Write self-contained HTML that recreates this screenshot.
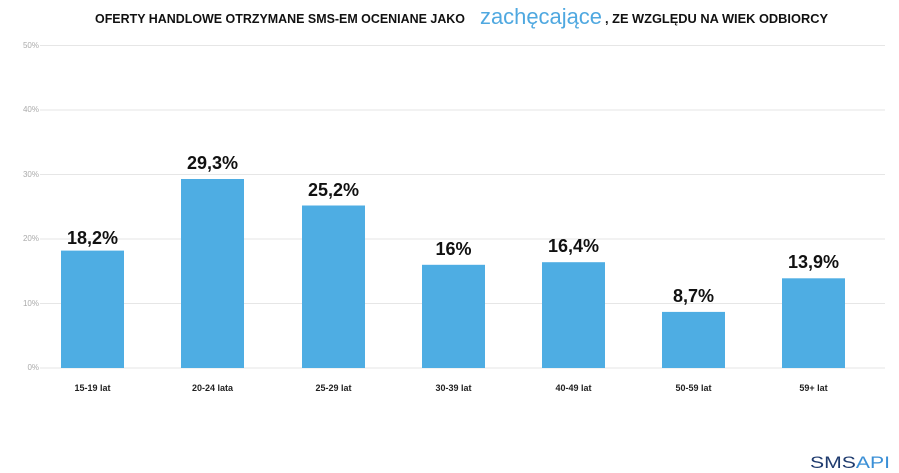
<!DOCTYPE html>
<html><head><meta charset="utf-8"><style>
html,body{margin:0;padding:0;background:#fff;}
svg{display:block;font-family:"Liberation Sans",sans-serif;}
</style></head><body>
<svg width="899" height="473" viewBox="0 0 899 473" xmlns="http://www.w3.org/2000/svg">
<rect width="899" height="473" fill="#fff"/>
<text x="95" y="23" font-weight="bold" font-size="12.5" fill="#111" textLength="370" lengthAdjust="spacingAndGlyphs">OFERTY HANDLOWE OTRZYMANE SMS-EM OCENIANE JAKO</text>
<text x="480" y="24" font-size="22" fill="#4fa8e0" textLength="122" lengthAdjust="spacingAndGlyphs">zachęcające</text>
<text x="605" y="23" font-weight="bold" font-size="12.5" fill="#111" textLength="223" lengthAdjust="spacingAndGlyphs">, ZE WZGLĘDU NA WIEK ODBIORCY</text>
<g stroke="#e6e6e6" stroke-width="1">
<line x1="40" x2="885" y1="45.5" y2="45.5"/>
<line x1="40" x2="885" y1="110" y2="110"/>
<line x1="40" x2="885" y1="174.5" y2="174.5"/>
<line x1="40" x2="885" y1="239" y2="239"/>
<line x1="40" x2="885" y1="303.5" y2="303.5"/>
<line x1="40" x2="885" y1="368" y2="368"/>
</g>
<g font-size="8" fill="#aaa" text-anchor="end">
<text x="39" y="48">50%</text>
<text x="39" y="112">40%</text>
<text x="39" y="177">30%</text>
<text x="39" y="241">20%</text>
<text x="39" y="306">10%</text>
<text x="39" y="370">0%</text>
</g>
<g fill="#4eade3">
<rect x="61" y="250.6" width="63" height="117.4"/>
<rect x="181" y="179" width="63" height="189"/>
<rect x="302" y="205.5" width="63" height="162.5"/>
<rect x="422" y="264.8" width="63" height="103.2"/>
<rect x="542" y="262.2" width="63" height="105.8"/>
<rect x="662" y="311.9" width="63" height="56.1"/>
<rect x="782" y="278.3" width="63" height="89.7"/>
</g>
<g font-size="18" font-weight="bold" fill="#111" text-anchor="middle">
<text x="92.5" y="244">18,2%</text>
<text x="212.5" y="169">29,3%</text>
<text x="333.5" y="196">25,2%</text>
<text x="453.5" y="255">16%</text>
<text x="573.5" y="252">16,4%</text>
<text x="693.5" y="302">8,7%</text>
<text x="813.5" y="268">13,9%</text>
</g>
<g font-size="9" font-weight="bold" fill="#222" text-anchor="middle">
<text x="92.5" y="391">15-19 lat</text>
<text x="212.5" y="391">20-24 lata</text>
<text x="333.5" y="391">25-29 lat</text>
<text x="453.5" y="391">30-39 lat</text>
<text x="573.5" y="391">40-49 lat</text>
<text x="693.5" y="391">50-59 lat</text>
<text x="813.5" y="391">59+ lat</text>
</g>
<text x="810" y="468" font-size="17" fill="#1f3b6e" textLength="80" lengthAdjust="spacingAndGlyphs">SMS<tspan fill="#3a8fd6">API</tspan></text>
</svg>
</body></html>
